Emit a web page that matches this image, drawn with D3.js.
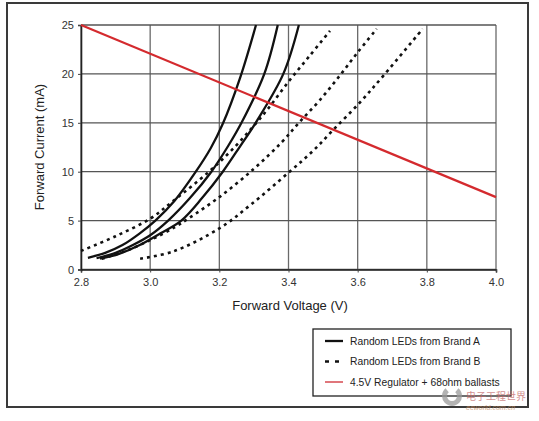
<!DOCTYPE html>
<html>
<head>
<meta charset="utf-8">
<script src="https://cdn.jsdelivr.net/npm/d3@7"></script>
<style>
  body { margin: 0; background: #fff; }
  text { font-family: "Liberation Sans", Arial, sans-serif; }
</style>
</head>
<body>
<div id="chart"></div>
<script>
// LED forward voltage vs current

const width = 539;
const height = 421;

const xTicks = [2.8, 3.0, 3.2, 3.4, 3.6, 3.8, 4.0];
const yTicks = [0, 5, 10, 15, 20, 25];

// [voltage, current mA]
const brandA1 = [[2.82,1.2],[2.87,1.7],[2.92,2.5],[2.97,3.7],[3.015,5],[3.07,7.0],[3.13,9.9],[3.175,12.4],[3.21,14.9],[3.26,19.6],[3.306,25]];
const brandA2 = [[2.845,1.15],[2.90,1.7],[2.95,2.5],[3.0,3.5],[3.052,5],[3.115,7.3],[3.177,10],[3.225,12.6],[3.264,15],[3.33,20],[3.369,25]];
const brandA3 = [[2.855,1.1],[2.91,1.6],[2.97,2.5],[3.03,3.7],[3.09,5],[3.15,7.3],[3.21,10],[3.26,12.6],[3.305,15],[3.385,20],[3.43,25]];

const brandB1 = [[2.80,1.9],[2.90,3.4],[3.00,5.2],[3.07,7.1],[3.17,10.0],[3.23,12.0],[3.29,14.3],[3.34,16.4],[3.40,19.2],[3.46,21.8],[3.52,24.4]];
const brandB2 = [[2.86,1.1],[2.93,1.9],[3.0,3.0],[3.07,4.3],[3.11,5.2],[3.20,7.4],[3.30,10.3],[3.38,13.0],[3.43,15.0],[3.49,17.3],[3.55,19.9],[3.60,22.2],[3.655,24.6]];
const brandB3 = [[2.971,1.1],[3.067,1.85],[3.20,4.2],[3.29,6.6],[3.40,9.9],[3.47,12.1],[3.53,14.3],[3.607,17.1],[3.674,19.8],[3.788,24.6]];

const regulator = [[2.8,25.0],[4.0,7.4]];

const legendLabels = ["Random LEDs from Brand A", "Random LEDs from Brand B", "4.5V Regulator + 68ohm ballasts"];

const svg = d3.select("#chart")
    .append("svg")
    .attr("width", width)
    .attr("height", height);

// outer frame
svg.append("rect")
    .attr("x", 7).attr("y", 3)
    .attr("width", 521).attr("height", 404)
    .attr("fill", "none")
    .attr("stroke", "#3a3a3a")
    .attr("stroke-width", 2);

const x = d3.scaleLinear().domain([2.8, 4.0]).range([81, 496]);
const y = d3.scaleLinear().domain([0, 25]).range([269.5, 25]);

// grid
svg.append("g")
    .selectAll("line")
    .data(xTicks)
    .join("line")
    .attr("x1", d => x(d)).attr("x2", d => x(d))
    .attr("y1", y(0)).attr("y2", y(25))
    .attr("stroke", "#6a6a6a")
    .attr("stroke-width", 1.3);

svg.append("g")
    .selectAll("line")
    .data(yTicks)
    .join("line")
    .attr("x1", x(2.8)).attr("x2", x(4.0))
    .attr("y1", d => y(d)).attr("y2", d => y(d))
    .attr("stroke", "#555")
    .attr("stroke-width", 1.3);

// axes
const xAxis = svg.append("g")
    .attr("transform", `translate(0,${y(0)})`)
    .call(d3.axisBottom(x).tickValues(xTicks).tickFormat(d3.format(".1f")).tickSize(3).tickPadding(6));
const yAxis = svg.append("g")
    .attr("transform", `translate(${x(2.8)},0)`)
    .call(d3.axisLeft(y).tickValues(yTicks).tickSize(3).tickPadding(4));

[xAxis, yAxis].forEach(a => {
    a.select(".domain").attr("stroke", "#222").attr("stroke-width", 1.6);
    a.selectAll(".tick line").attr("stroke", "#444");
    a.selectAll(".tick text")
        .attr("fill", "#333")
        .style("font-size", "11px")
        .style("font-family", "'Liberation Sans', Arial, sans-serif");
});

// axis titles
svg.append("text")
    .attr("x", 290).attr("y", 310)
    .attr("text-anchor", "middle")
    .attr("fill", "#222")
    .style("font-size", "13px")
    .text("Forward Voltage (V)");

svg.append("text")
    .attr("transform", "translate(44,147) rotate(-90)")
    .attr("text-anchor", "middle")
    .attr("fill", "#222")
    .style("font-size", "13px")
    .text("Forward Current (mA)");

const line = d3.line()
    .x(d => x(d[0]))
    .y(d => y(d[1]))
    .curve(d3.curveCatmullRom.alpha(0.5));

const plot = svg.append("g");

[brandB1, brandB2, brandB3].forEach(s => {
    plot.append("path")
        .datum(s)
        .attr("d", line)
        .attr("fill", "none")
        .attr("stroke", "#111")
        .attr("stroke-width", 2.6)
        .attr("stroke-dasharray", "3,4");
});

[brandA1, brandA2, brandA3].forEach(s => {
    plot.append("path")
        .datum(s)
        .attr("d", line)
        .attr("fill", "none")
        .attr("stroke", "#111")
        .attr("stroke-width", 2.3);
});

plot.append("path")
    .datum(regulator)
    .attr("d", d3.line().x(d => x(d[0])).y(d => y(d[1])))
    .attr("fill", "none")
    .attr("stroke", "#d42a2e")
    .attr("stroke-width", 2.2);

// legend
const legend = svg.append("g");
legend.append("rect")
    .attr("x", 313).attr("y", 329)
    .attr("width", 198).attr("height", 67)
    .attr("fill", "#fff")
    .attr("stroke", "#222")
    .attr("stroke-width", 1.3);

const legendStyles = [
    { stroke: "#111", dash: null, w: 2.3 },
    { stroke: "#111", dash: "4,6", w: 2.6 },
    { stroke: "#d9535a", dash: null, w: 1.6 }
];

legendLabels.forEach((label, i) => {
    const ly = 341 + i * 20.5;
    legend.append("line")
        .attr("x1", 325).attr("x2", 343)
        .attr("y1", ly).attr("y2", ly)
        .attr("stroke", legendStyles[i].stroke)
        .attr("stroke-width", legendStyles[i].w)
        .attr("stroke-dasharray", legendStyles[i].dash);
    legend.append("text")
        .attr("x", 350).attr("y", ly + 3.5)
        .attr("fill", "#222")
        .style("font-size", "10.3px")
        .text(label);
});

// watermark
const wm = svg.append("g").attr("opacity", 0.75);
wm.append("path")
    .attr("d", d3.arc()({ innerRadius: 5, outerRadius: 10, startAngle: 0.7, endAngle: 2 * Math.PI - 0.7 }))
    .attr("transform", "translate(452,396)")
    .attr("fill", "#9a9a9a");
wm.append("text")
    .attr("x", 466).attr("y", 400)
    .attr("fill", "#c46a6a")
    .style("font-size", "10px")
    .style("font-family", "'Noto Sans CJK SC', sans-serif")
    .text("电子工程世界");
wm.append("text")
    .attr("x", 466).attr("y", 410)
    .attr("fill", "#c48a5a")
    .style("font-size", "7px")
    .style("font-style", "italic")
    .text("eeworld.com.cn");
</script>
</body>
</html>
